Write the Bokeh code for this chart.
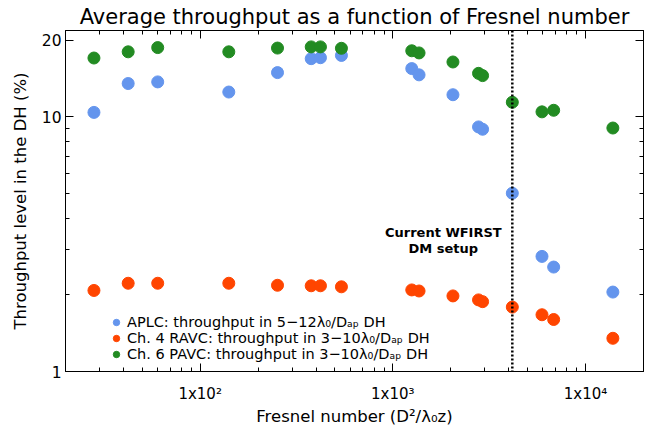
from bokeh.plotting import figure
from bokeh.models import Range1d, FixedTicker, LogAxis, Span, Label, Legend, LegendItem
from bokeh.embed import file_html
from bokeh.resources import INLINE

# ---- data ----
fresnel = [28.1, 42.3, 60.2, 140.8, 252, 377, 421, 541, 1254, 1368, 2051, 2785, 2923, 4170, 5945, 6835, 13870]
aplc = [10.4, 13.5, 13.7, 12.5, 14.9, 16.9, 17.05, 17.4, 15.45, 14.6, 12.2, 9.12, 8.93, 5.01, 2.83, 2.57, 2.05]
ravc = [2.08, 2.22, 2.22, 2.22, 2.18, 2.17, 2.17, 2.15, 2.09, 2.07, 1.98, 1.91, 1.88, 1.79, 1.67, 1.60, 1.35]
pavc = [17.0, 17.98, 18.68, 17.98, 18.6, 18.8, 18.8, 18.56, 18.15, 17.8, 16.4, 14.8, 14.5, 11.4, 10.45, 10.6, 9.03]
series_labels = [
    "APLC: throughput in 5\u221212\u03bb\u2080/D\u2090\u209a DH",
    "Ch. 4 RAVC: throughput in 3\u221210\u03bb\u2080/D\u2090\u209a DH",
    "Ch. 6 PAVC: throughput in 3\u221210\u03bb\u2080/D\u2090\u209a DH",
]
series_colors = ["#6495ED", "#FF4500", "#228B22"]
wfirst_fresnel = 4170
wfirst_text = ["Current WFIRST", "DM setup"]

x_major = [100, 1000, 10000]
x_minor = [30, 40, 50, 60, 70, 80, 90, 200, 300, 400, 500, 600, 700, 800, 900,
           2000, 3000, 4000, 5000, 6000, 7000, 8000, 9000, 20000]
x_labels = {100: "1x10\u00b2", 1000: "1x10\u00b3", 10000: "1x10\u2074"}
y_major = [1, 10, 20]
y_minor = [2, 3, 4, 5, 6, 7, 8, 9]
y_labels = {1: "1", 10: "10", 20: "20"}

FONT = "DejaVu Sans"

p = figure(width=650, height=428, x_axis_type="log", y_axis_type="log",
           x_range=Range1d(20, 20000), y_range=Range1d(1, 21.8),
           output_backend="svg", toolbar_location=None,
           min_border_left=65, min_border_right=7, min_border_top=29, min_border_bottom=52,
           title="Average throughput as a function of Fresnel number")
p.title.align = "center"
p.title.text_font = FONT
p.title.text_font_size = "21px"
p.title.text_font_style = "normal"
p.title.text_color = "black"
p.title.standoff = 4
p.grid.visible = False
p.outline_line_color = "black"

xt = FixedTicker(ticks=x_major, minor_ticks=x_minor)
yt = FixedTicker(ticks=y_major, minor_ticks=y_minor)

def style_axis(ax):
    ax.axis_line_color = "black"
    ax.major_tick_line_color = "black"
    ax.minor_tick_line_color = "black"
    ax.major_tick_in = 8
    ax.major_tick_out = 0
    ax.minor_tick_in = 4
    ax.minor_tick_out = 0
    ax.major_label_text_font = FONT
    ax.major_label_text_color = "black"
    ax.axis_label_text_font = FONT
    ax.axis_label_text_font_style = "normal"
    ax.axis_label_text_color = "black"

p.xaxis.ticker = xt
p.yaxis.ticker = yt
style_axis(p.xaxis[0])
style_axis(p.yaxis[0])
p.xaxis.major_label_overrides = x_labels
p.yaxis.major_label_overrides = y_labels
p.xaxis.major_label_text_font_size = "15px"
p.yaxis.major_label_text_font_size = "15.5px"
p.xaxis.major_label_standoff = 13
p.yaxis.major_label_standoff = 4
p.xaxis.axis_label = "Fresnel number (D\u00b2/\u03bb\u2080z)"
p.yaxis.axis_label = "Throughput level in the DH (%)"
p.xaxis.axis_label_text_font_size = "16.5px"
p.yaxis.axis_label_text_font_size = "16.5px"
p.xaxis.axis_label_standoff = 1
p.yaxis.axis_label_standoff = 9

top_ax = LogAxis(ticker=FixedTicker(ticks=x_major, minor_ticks=x_minor),
                 major_label_overrides={k: "" for k in x_major},
                 major_label_standoff=0, major_label_text_font_size="6px")
right_ax = LogAxis(ticker=FixedTicker(ticks=y_major, minor_ticks=y_minor),
                   major_label_overrides={k: "" for k in y_major},
                   major_label_standoff=0, major_label_text_font_size="6px")
style_axis(top_ax)
style_axis(right_ax)
p.add_layout(top_ax, "above")
p.add_layout(right_ax, "right")

items = []
for vals, lab, col in zip([aplc, ravc, pavc], series_labels, series_colors):
    r = p.scatter(fresnel, vals, size=12, color=col, line_color=col)
    items.append(LegendItem(label=lab, renderers=[r]))

span = Span(location=wfirst_fresnel, dimension="height", line_color="black",
            line_width=2.5, line_dash="2 2")
p.add_layout(span)

p.add_layout(Label(x=wfirst_fresnel, y=3.52, x_offset=-69, text=wfirst_text[0],
                   text_align="center", text_baseline="middle", text_font=FONT,
                   text_font_size="13px", text_font_style="bold", text_color="black"))
p.add_layout(Label(x=wfirst_fresnel, y=3.05, x_offset=-69, text=wfirst_text[1],
                   text_align="center", text_baseline="middle", text_font=FONT,
                   text_font_size="13px", text_font_style="bold", text_color="black"))

legend = Legend(items=items, location=(43, 9), orientation="vertical",
                background_fill_alpha=0, border_line_color=None,
                padding=0, margin=0, spacing=-1,
                glyph_width=16, glyph_height=16, label_height=16,
                label_standoff=3, label_text_font=FONT, label_text_font_size="14.5px",
                label_text_color="black")
p.add_layout(legend)

open("out.html", "w").write(file_html(p, INLINE))
